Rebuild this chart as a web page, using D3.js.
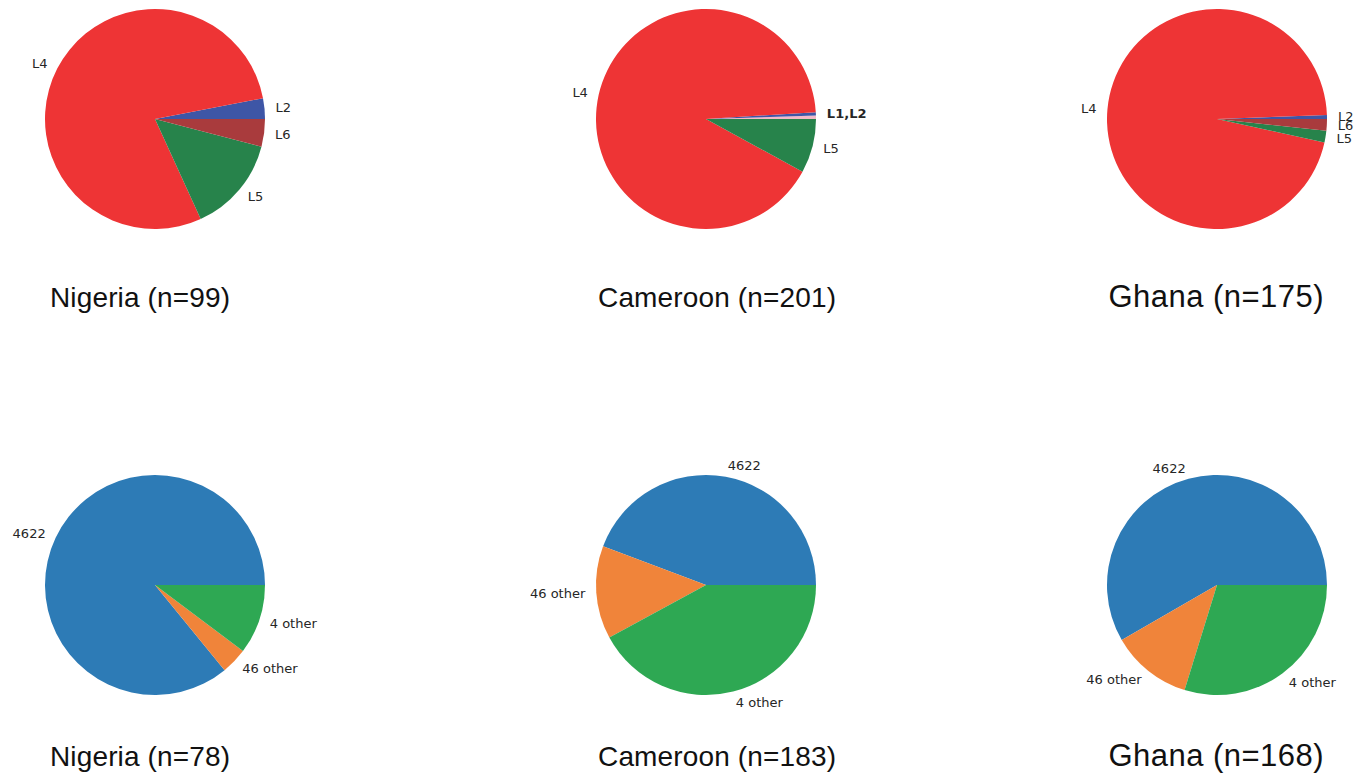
<!DOCTYPE html>
<html>
<head>
<meta charset="utf-8">
<script src="https://cdn.jsdelivr.net/npm/d3@7"></script>
<style>
  html, body { margin: 0; padding: 0; background: #ffffff; }
  svg { display: block; }
</style>
</head>
<body>
<svg id="chart" width="1364" height="776"></svg>
<script>
// ---- Lineage counts per country (top row) ----
const lineageTitles = ["Nigeria (n=99)", "Cameroon (n=201)", "Ghana (n=175)"];

const nigeriaLineages = ["L2", "L4", "L5", "L6"];
const nigeriaLineageCounts = [3, 78, 14, 4];

const cameroonLineages = ["L1", "L2", "L4", "L5"];
const cameroonLineageCounts = [1, 1, 183, 16];
// L1 and L2 share one combined label on the L2 slice
const cameroonLineageLabels = ["", "L1,L2", "L4", "L5"];

const ghanaLineages = ["L2", "L4", "L5", "L6"];
const ghanaLineageCounts = [1, 168, 3, 3];

// ---- Sub-lineage counts per country (bottom row) ----
const sublineageTitles = ["Nigeria (n=78)", "Cameroon (n=183)", "Ghana (n=168)"];
const sublineages = ["4622", "46 other", "4 other"];
const nigeriaSubCounts = [67, 3, 8];
const cameroonSubCounts = [81, 25, 77];
const ghanaSubCounts = [98, 20, 50];

// ---- Colours ----
const lineageColor = d3.scaleOrdinal()
  .domain(["L1", "L2", "L4", "L5", "L6"])
  .range(["#f2b9c9", "#3e56a6", "#ee3435", "#27834b", "#a93b3d"]);
const sublineageColor = d3.scaleOrdinal()
  .domain(sublineages)
  .range(["#2d7bb6", "#f0843a", "#2ea853"]);

// ---- Layout ----
const svg = d3.select("#chart");
const radius = 110;
const labelDistance = 1.1;
const centersX = [155, 706, 1217];
const rowCenterY = [119, 585];
const titleX = [140, 717, 1216];
const titleY = [307, 766];
const titleSize = [28, 28, 31];
const titleWidth = [180, 238, 215];

const panels = [
  { row: 0, col: 0, title: lineageTitles[0], keys: nigeriaLineages, values: nigeriaLineageCounts, labels: nigeriaLineages, color: lineageColor },
  { row: 0, col: 1, title: lineageTitles[1], keys: cameroonLineages, values: cameroonLineageCounts, labels: cameroonLineageLabels, color: lineageColor, bold: ["L1,L2"] },
  { row: 0, col: 2, title: lineageTitles[2], keys: ghanaLineages, values: ghanaLineageCounts, labels: ghanaLineages, color: lineageColor },
  { row: 1, col: 0, title: sublineageTitles[0], keys: sublineages, values: nigeriaSubCounts, labels: sublineages, color: sublineageColor },
  { row: 1, col: 1, title: sublineageTitles[1], keys: sublineages, values: cameroonSubCounts, labels: sublineages, color: sublineageColor },
  { row: 1, col: 2, title: sublineageTitles[2], keys: sublineages, values: ghanaSubCounts, labels: sublineages, color: sublineageColor }
];

// Wedges start at 3 o'clock and run counter-clockwise
const pie = d3.pie()
  .sort(null)
  .value(d => d.value)
  .startAngle(Math.PI / 2)
  .endAngle(Math.PI / 2 - 2 * Math.PI);

const arc = d3.arc().innerRadius(0).outerRadius(radius);

panels.forEach(p => {
  const rows = p.keys.map((k, i) => ({ key: k, value: p.values[i], label: p.labels[i] }));
  const g = svg.append("g")
    .attr("transform", `translate(${centersX[p.col]},${rowCenterY[p.row]})`);

  const arcs = pie(rows);

  g.selectAll("path.wedge")
    .data(arcs)
    .join("path")
    .attr("class", "wedge")
    .attr("d", arc)
    .attr("fill", d => p.color(d.data.key));

  g.selectAll("text.slice-label")
    .data(arcs.filter(d => d.data.label))
    .join("text")
    .attr("class", "slice-label")
    .each(function (d) {
      const mid = (d.startAngle + d.endAngle) / 2;
      const x = labelDistance * radius * Math.sin(mid);
      const y = -labelDistance * radius * Math.cos(mid);
      d3.select(this)
        .attr("x", x)
        .attr("y", y)
        .attr("text-anchor", x >= 0 ? "start" : "end");
    })
    .attr("dominant-baseline", "central")
    .attr("font-family", "DejaVu Sans, sans-serif")
    .attr("font-size", 13)
    .attr("font-weight", d => (p.bold && p.bold.includes(d.data.label)) ? "bold" : "normal")
    .attr("fill", "#262626")
    .text(d => d.data.label);

  svg.append("text")
    .attr("x", titleX[p.col])
    .attr("y", titleY[p.row])
    .attr("text-anchor", "middle")
    .attr("font-family", "Liberation Sans, Arial, sans-serif")
    .attr("font-size", titleSize[p.col])
    .attr("textLength", titleWidth[p.col])
    .attr("lengthAdjust", "spacing")
    .attr("fill", "#111111")
    .text(p.title);
});
</script>
</body>
</html>
